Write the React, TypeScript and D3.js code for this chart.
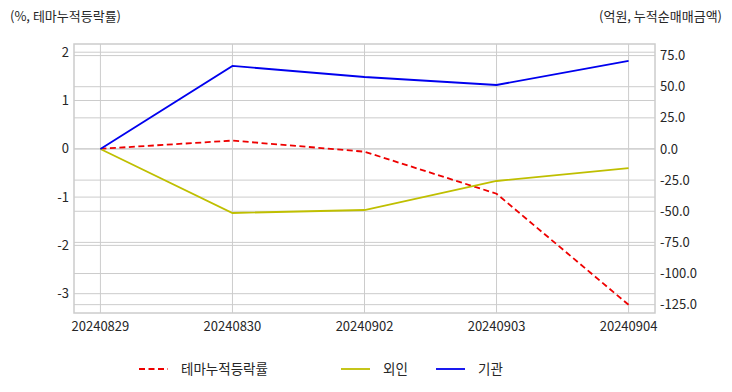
import React from "react";
import * as d3 from "d3";

const dates = ["20240829", "20240830", "20240902", "20240903", "20240904"];
const themeReturn = [0, 0.17, -0.06, -0.93, -3.23];
const foreign = [0, -51.4, -49.0, -25.7, -15.3];
const institution = [0, 66.7, 57.8, 51.4, 70.7];
const leftTicks = [2, 1, 0, -1, -2, -3];
const rightTicks = [75, 50, 25, 0, -25, -50, -75, -100, -125];
const seriesNames = ["테마누적등락률", "외인", "기관"];

const W = 732, H = 392;
const L = 74, R = 655, T = 44, B = 313;
const FONT = "'Noto Sans CJK KR', 'Noto Sans', sans-serif";

export default function App() {
  const x = d3.scaleLinear().domain([-0.2, 4.2]).range([L, R]);
  const yL = d3.scaleLinear().domain([2.17, -3.4]).range([T, B]);
  const yR = d3.scaleLinear().domain([84.3, -131.7]).range([T, B]);
  const idx = dates.map((_, i) => i);
  const lineL = d3.line<number>().x((i) => x(i)).y((i) => yL(themeReturn[i]));
  const lineF = d3.line<number>().x((i) => x(i)).y((i) => yR(foreign[i]));
  const lineI = d3.line<number>().x((i) => x(i)).y((i) => yR(institution[i]));
  const grid = "#cccccc";
  const txt = "#262626";
  const dash = "6,3.5";
  const legend = [
    { name: seriesNames[0], color: "#ee0000", dash: dash, x: 139 },
    { name: seriesNames[1], color: "#bfbf00", dash: "", x: 341 },
    { name: seriesNames[2], color: "#0000ee", dash: "", x: 436 },
  ];
  return (
    <svg width={W} height={H} style={{ position: "absolute", left: 0, top: 0, background: "#fff" }} fontFamily={FONT}>
      <text x={10} y={16} dy="0.35em" fontSize={13} fill={txt}>(%, 테마누적등락률)</text>
      <text x={722} y={16} dy="0.35em" fontSize={13} fill={txt} textAnchor="end">(억원, 누적순매매금액)</text>
      {leftTicks.map((t) => (
        <line key={"gl" + t} x1={L} x2={R} y1={yL(t)} y2={yL(t)} stroke={grid} strokeWidth={1} />
      ))}
      {rightTicks.map((t) => (
        <line key={"gr" + t} x1={L} x2={R} y1={yR(t)} y2={yR(t)} stroke={grid} strokeWidth={1} />
      ))}
      {idx.map((i) => (
        <line key={"gx" + i} x1={x(i)} x2={x(i)} y1={T} y2={B} stroke={grid} strokeWidth={1} />
      ))}
      <rect x={L} y={T} width={R - L} height={B - T} fill="none" stroke={grid} strokeWidth={1.5} />
      <path d={lineL(idx) || ""} fill="none" stroke="#ee0000" strokeWidth={1.8} strokeDasharray={dash} />
      <path d={lineF(idx) || ""} fill="none" stroke="#bfbf00" strokeWidth={1.8} />
      <path d={lineI(idx) || ""} fill="none" stroke="#0000ee" strokeWidth={1.8} />
      {leftTicks.map((t) => (
        <text key={"tl" + t} x={69} y={yL(t)} dy="0.35em" fontSize={13} fill={txt} textAnchor="end">{t}</text>
      ))}
      {rightTicks.map((t) => (
        <text key={"tr" + t} x={660} y={yR(t)} dy="0.35em" fontSize={13} fill={txt}>{t.toFixed(1)}</text>
      ))}
      {dates.map((d, i) => (
        <text key={"tx" + d} x={x(i)} y={326} dy="0.35em" fontSize={13} fill={txt} textAnchor="middle">{d}</text>
      ))}
      {legend.map((l) => (
        <g key={l.name}>
          <line x1={l.x} x2={l.x + 29} y1={369} y2={369} stroke={l.color} strokeWidth={1.8} strokeDasharray={l.dash || undefined} />
          <text x={l.x + 42} y={369} dy="0.35em" fontSize={13.5} fill={txt}>{l.name}</text>
        </g>
      ))}
    </svg>
  );
}
